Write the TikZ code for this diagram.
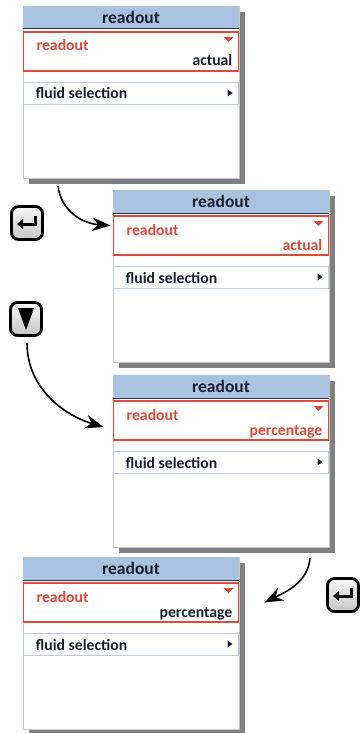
\documentclass[tikz,border=0pt]{standalone}
\usepackage{fontspec}
\setmainfont{Carlito}
\usepackage{tikz}
\usetikzlibrary{arrows.meta, positioning, shadows, calc}
\usepackage{xcolor}
\definecolor{barblue}{HTML}{A9C2E2}
\definecolor{barnavy}{HTML}{2A3550}
\definecolor{selred}{HTML}{E0483A}
\definecolor{rowblue}{HTML}{B8CBE4}
\definecolor{inkdark}{HTML}{1A1F2E}

\begin{document}
\begin{tikzpicture}[
        x=1pt, y=-1pt,
        screen/.style={
            rectangle,
            draw=black!22,
            fill=white,
            minimum width=216pt,
            minimum height=172pt,
            anchor=north west,
            inner sep=0pt, outer sep=0pt,
            drop shadow={opacity=1, fill=black!50, shadow xshift=6pt, shadow yshift=-6pt}
        },
        titlebar/.style={
            rectangle,
            fill=barblue,
            minimum width=216pt,
            minimum height=23pt,
            inner sep=0pt, outer sep=0pt,
            text=inkdark,
            font=\fontsize{17.5}{20}\selectfont\bfseries
        },
        barrule/.style={draw=barnavy, line width=1pt},
        selbox/.style={
            rectangle,
            draw=selred,
            line width=1.3pt,
            fill=white,
            minimum width=215pt,
            minimum height=39pt,
            inner sep=0pt, outer sep=0pt
        },
        rowbox/.style={
            rectangle,
            draw=rowblue,
            line width=0.9pt,
            fill=white,
            minimum width=215pt,
            minimum height=22pt,
            inner sep=0pt, outer sep=0pt
        },
        sellabel/.style={anchor=base west, inner sep=0pt, text=selred, font=\fontsize{15.7}{18}\selectfont\bfseries},
        vallabel/.style={anchor=base east, inner sep=0pt, text=inkdark, font=\fontsize{15.7}{18}\selectfont\bfseries},
        rowlabel/.style={anchor=base west, inner sep=0pt, text=inkdark, font=\fontsize{15.7}{18}\selectfont\bfseries},
        key/.style={
            rectangle,
            draw=black,
            line width=2.8pt,
            rounded corners=7pt,
            minimum width=31pt,
            minimum height=33pt,
            top color=gray!6,
            bottom color=gray!45
        },
        glyph/.style={line width=3pt, -{Triangle[length=6pt, width=10pt]}},
        flow/.style={-{Stealth[scale=1.8]}, black, line width=1.6pt}
    ]

    \useasboundingbox (0,0) rectangle (360,733);

    % --- SCREEN 1 ---
    \node (scr1) [screen] at (23,6) {};
    \node (bar1) [titlebar, below=0pt of scr1.north] {readout};
    \draw [barrule] (bar1.south west) -- (bar1.south east);
    \node (sel1) [selbox, below=3pt of bar1] {};
    \node (lab1) [sellabel] at ([xshift=13pt, yshift=-19pt]sel1.north west) {readout};
    \node (val1) [vallabel] at ([xshift=-6pt, yshift=5pt]sel1.south east) {actual};
    \fill [selred] ([xshift=-15pt, yshift=-5pt]sel1.north east) -- ++(10,0) -- ++(-5,5) -- cycle;
    \node (row1) [rowbox, below=11pt of sel1] {};
    \node (fl1) [rowlabel] at ([xshift=12pt, yshift=-17pt]row1.north west) {fluid selection};
    \fill [inkdark] ([xshift=-11pt, yshift=3.5pt]row1.east) -- ++(5,3.5) -- ++(-5,3.5) -- cycle;

    % --- SCREEN 2 ---
    \node (scr2) [screen] at (113,190) {};
    \node (bar2) [titlebar, below=0pt of scr2.north] {readout};
    \draw [barrule] (bar2.south west) -- (bar2.south east);
    \node (sel2) [selbox, below=3pt of bar2] {};
    \node (lab2) [sellabel] at ([xshift=13pt, yshift=-19pt]sel2.north west) {readout};
    \node (val2) [vallabel, text=selred] at ([xshift=-6pt, yshift=5pt]sel2.south east) {actual};
    \fill [selred] ([xshift=-15pt, yshift=-5pt]sel2.north east) -- ++(10,0) -- ++(-5,5) -- cycle;
    \node (row2) [rowbox, below=11pt of sel2] {};
    \node (fl2) [rowlabel] at ([xshift=12pt, yshift=-17pt]row2.north west) {fluid selection};
    \fill [inkdark] ([xshift=-11pt, yshift=3.5pt]row2.east) -- ++(5,3.5) -- ++(-5,3.5) -- cycle;

    % --- SCREEN 3 ---
    \node (scr3) [screen] at (113,375) {};
    \node (bar3) [titlebar, below=0pt of scr3.north] {readout};
    \draw [barrule] (bar3.south west) -- (bar3.south east);
    \node (sel3) [selbox, below=3pt of bar3] {};
    \node (lab3) [sellabel] at ([xshift=13pt, yshift=-19pt]sel3.north west) {readout};
    \node (val3) [vallabel, text=selred] at ([xshift=-6pt, yshift=5pt]sel3.south east) {percentage};
    \fill [selred] ([xshift=-15pt, yshift=-5pt]sel3.north east) -- ++(10,0) -- ++(-5,5) -- cycle;
    \node (row3) [rowbox, below=11pt of sel3] {};
    \node (fl3) [rowlabel] at ([xshift=12pt, yshift=-17pt]row3.north west) {fluid selection};
    \fill [inkdark] ([xshift=-11pt, yshift=3.5pt]row3.east) -- ++(5,3.5) -- ++(-5,3.5) -- cycle;

    % --- SCREEN 4 ---
    \node (scr4) [screen] at (23,557) {};
    \node (bar4) [titlebar, below=0pt of scr4.north] {readout};
    \draw [barrule] (bar4.south west) -- (bar4.south east);
    \node (sel4) [selbox, below=3pt of bar4] {};
    \node (lab4) [sellabel] at ([xshift=13pt, yshift=-19pt]sel4.north west) {readout};
    \node (val4) [vallabel] at ([xshift=-6pt, yshift=5pt]sel4.south east) {percentage};
    \fill [selred] ([xshift=-15pt, yshift=-5pt]sel4.north east) -- ++(10,0) -- ++(-5,5) -- cycle;
    \node (row4) [rowbox, below=11pt of sel4] {};
    \node (fl4) [rowlabel] at ([xshift=12pt, yshift=-17pt]row4.north west) {fluid selection};
    \fill [inkdark] ([xshift=-11pt, yshift=3.5pt]row4.east) -- ++(5,3.5) -- ++(-5,3.5) -- cycle;

    % --- KEYS ---
    \node (key1) [key] at (27,223) {};
    \draw [glyph] ([xshift=8pt, yshift=7pt]key1.center) |- ([xshift=-10pt, yshift=-1pt]key1.center);

    \node (key2) [key] at (26,319) {};
    \fill ([xshift=-8pt, yshift=11pt]key2.center) -- ([xshift=8pt, yshift=11pt]key2.center) -- ([yshift=-11pt]key2.center) -- cycle;

    \node (key3) [key] at (343,595) {};
    \draw [glyph] ([xshift=8pt, yshift=7pt]key3.center) |- ([xshift=-10pt, yshift=-1pt]key3.center);

    % --- ARROWS ---
    \draw [flow] ([xshift=35pt, yshift=-8pt]scr1.south west)
        .. controls +(3,25) and +(-28,-2) .. ([xshift=-3pt, yshift=10pt]sel2.west);
    \draw [flow] ([xshift=1pt, yshift=-6pt]key2.south)
        .. controls +(0,45) and +(-40,-12) .. ([xshift=-10pt, yshift=-6.5pt]sel3.west);
    \draw [flow] ([xshift=-19pt, yshift=-11pt]scr3.south east)
        .. controls +(-2,25) and +(20,-10) .. ([xshift=26pt]sel4.east);

\end{tikzpicture}
\end{document}
